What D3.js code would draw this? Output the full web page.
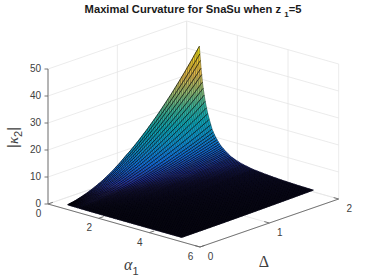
<!DOCTYPE html>
<html>
<head>
<meta charset="utf-8">
<script src="https://cdn.jsdelivr.net/npm/d3@7"></script>
<style>
html, body { margin: 0; padding: 0; background: #fff; }
svg { display: block; }
text { font-family: "Liberation Sans", Arial, sans-serif; fill: #404040; }
</style>
</head>
<body>
<svg id="chart" width="374" height="278"></svg>
<script>
var alphaTicks = [0, 2, 4, 6];
var deltaTicks = [0, 1, 2];
var kappaTicks = [0, 10, 20, 30, 40, 50];

var alphaValues = [
    0.50, 0.52, 0.54, 0.565, 0.59, 0.62, 0.65, 0.69, 0.73, 0.78,
    0.83, 0.89, 0.95,
    1.00, 1.05, 1.10, 1.15, 1.20, 1.25, 1.30, 1.35, 1.40, 1.45,
    1.50, 1.55, 1.60, 1.65, 1.70, 1.75, 1.80, 1.85, 1.90, 1.95,
    2.00, 2.05, 2.10, 2.15, 2.20, 2.25, 2.30, 2.35, 2.40, 2.45,
    2.50, 2.55, 2.60, 2.65, 2.70, 2.75, 2.80, 2.85, 2.90, 2.95,
    3.00, 3.05, 3.10, 3.15, 3.20, 3.25, 3.30, 3.35, 3.40, 3.45,
    3.50, 3.55, 3.60, 3.65, 3.70, 3.75, 3.80, 3.85, 3.90, 3.95,
    4.00, 4.05, 4.10, 4.15, 4.20, 4.25, 4.30, 4.35, 4.40, 4.45,
    4.50, 4.55, 4.60, 4.65, 4.70, 4.75, 4.80, 4.85, 4.90, 4.95,
    5.00
];
// kappa read along the back edge of the surface (delta = 2)
var kappaAtDelta2 = [
    42.0, 39.2, 36.8, 34.0, 31.7, 29.0, 26.8, 24.4, 22.2, 19.9,
    17.9, 15.9, 14.1,
    12.6, 11.6, 10.7, 9.9, 9.2, 8.5, 7.9, 7.4, 6.9, 6.5,
    6.1, 5.7, 5.4, 5.0, 4.7, 4.4, 4.2, 4.0, 3.8, 3.6,
    3.4, 3.25, 3.1, 2.95, 2.8, 2.7, 2.6, 2.5, 2.4, 2.3,
    2.2, 2.1, 2.0, 1.95, 1.9, 1.85, 1.8, 1.75, 1.7, 1.65,
    1.6, 1.55, 1.5, 1.46, 1.42, 1.38, 1.34, 1.3, 1.26, 1.22,
    1.19, 1.16, 1.13, 1.1, 1.07, 1.04, 1.01, 0.98, 0.96, 0.94,
    0.92, 0.9, 0.88, 0.86, 0.84, 0.82, 0.8, 0.78, 0.76, 0.75,
    0.74, 0.73, 0.72, 0.71, 0.7, 0.69, 0.68, 0.67, 0.66, 0.65,
    0.64
];
var deltaValues = [
    0.100, 0.125, 0.150, 0.175, 0.200, 0.225, 0.250, 0.275, 0.300, 0.325,
    0.350, 0.375, 0.400, 0.425, 0.450, 0.475, 0.500, 0.525, 0.550, 0.575,
    0.600, 0.625, 0.650, 0.675, 0.700, 0.725, 0.750, 0.775, 0.800, 0.825,
    0.850, 0.875, 0.900, 0.925, 0.950, 0.975, 1.000, 1.025, 1.050, 1.075,
    1.100, 1.125, 1.150, 1.175, 1.200, 1.225, 1.250, 1.275, 1.300, 1.325,
    1.350, 1.375, 1.400, 1.425, 1.450, 1.475, 1.500, 1.525, 1.550, 1.575,
    1.600, 1.625, 1.650, 1.675, 1.700, 1.725, 1.750, 1.775, 1.800, 1.825,
    1.850, 1.875, 1.900, 1.925, 1.950, 1.975, 2.000
];
// share of the back edge value left at each delta, read along the left edge
var deltaShare = [
    0.005, 0.007, 0.010, 0.012, 0.016, 0.019, 0.024, 0.028, 0.033, 0.038,
    0.043, 0.048, 0.054, 0.060, 0.066, 0.073, 0.080, 0.087, 0.095, 0.102,
    0.110, 0.119, 0.128, 0.137, 0.147, 0.157, 0.167, 0.178, 0.190, 0.201,
    0.213, 0.225, 0.238, 0.251, 0.264, 0.275, 0.287, 0.300, 0.314, 0.327,
    0.341, 0.355, 0.370, 0.384, 0.399, 0.414, 0.429, 0.445, 0.461, 0.477,
    0.493, 0.509, 0.526, 0.543, 0.560, 0.578, 0.596, 0.614, 0.632, 0.650,
    0.669, 0.688, 0.707, 0.727, 0.746, 0.766, 0.786, 0.806, 0.827, 0.848,
    0.869, 0.890, 0.912, 0.934, 0.956, 0.978, 1.000
];
var colorKappa = [0, 1.5, 3, 7, 12, 17, 22, 27, 33, 38, 42];
var colorStops = ["#14123a", "#1c1a5c", "#2433a8", "#0f6fe0", "#0a94cc", "#0aa8b8", "#35b59c", "#8cbd75", "#e0b84c", "#eeca2c", "#e8e015"];

var svg = d3.select("#chart");

// the view is a fixed oblique projection: each data axis moves a point on screen
var xAlpha = d3.scaleLinear().domain([0, 6]).range([48, 200]);
var yAlpha = d3.scaleLinear().domain([0, 6]).range([0, 43]);
var xDelta = d3.scaleLinear().domain([0, 2]).range([0, 138.7]);
var yDelta = d3.scaleLinear().domain([0, 2]).range([0, -48]);
var yKappa = d3.scaleLinear().domain([0, 50]).range([204, 69]);

function project(a, d, k) {
    return [xAlpha(a) + xDelta(d), yKappa(k) + yAlpha(a) + yDelta(d)];
}

var color = d3.scaleLinear()
    .domain(colorKappa)
    .range(colorStops)
    .clamp(true);

var line = d3.line();

// walls and floor grid
var gridLines = [];
kappaTicks.forEach(function(k) {
    gridLines.push([project(0, 0, k), project(0, 2, k), project(6, 2, k)]);
});
deltaTicks.forEach(function(d) {
    gridLines.push([project(6, d, 0), project(0, d, 0), project(0, d, 50)]);
});
alphaTicks.forEach(function(a) {
    gridLines.push([project(a, 0, 0), project(a, 2, 0), project(a, 2, 50)]);
});
svg.append("g").selectAll("path")
    .data(gridLines)
    .enter()
    .append("path")
    .attr("d", line)
    .attr("fill", "none")
    .attr("stroke", "#e6e6e6")
    .attr("stroke-width", 0.8);

// axis lines
var axisLines = [
    [project(0, 0, 0), project(6, 0, 0)],
    [project(6, 0, 0), project(6, 2, 0)],
    [project(0, 0, 0), project(0, 0, 50)]
];
alphaTicks.forEach(function(a) {
    axisLines.push([project(a, 0, 0), project(a, 0.07, 0)]);
});
deltaTicks.forEach(function(d) {
    axisLines.push([project(6, d, 0), project(5.8, d, 0)]);
});
kappaTicks.forEach(function(k) {
    var p = project(0, 0, k);
    axisLines.push([p, [p[0] - 3.5, p[1]]]);
});

// surface cells, far corner first so nearer cells paint over
var cells = [];
alphaValues.slice(0, -1).forEach(function(a, i) {
    for (var j = deltaValues.length - 2; j >= 0; j--) {
        var k00 = kappaAtDelta2[i] * deltaShare[j];
        var k10 = kappaAtDelta2[i + 1] * deltaShare[j];
        var k01 = kappaAtDelta2[i] * deltaShare[j + 1];
        var k11 = kappaAtDelta2[i + 1] * deltaShare[j + 1];
        cells.push({
            k: k00,
            pts: [
                project(alphaValues[i], deltaValues[j], k00),
                project(alphaValues[i + 1], deltaValues[j], k10),
                project(alphaValues[i + 1], deltaValues[j + 1], k11),
                project(alphaValues[i], deltaValues[j + 1], k01)
            ]
        });
    }
});
svg.append("g").selectAll("path")
    .data(cells)
    .enter()
    .append("path")
    .attr("d", function(c) { return line(c.pts) + "Z"; })
    .attr("fill", function(c) { return color(c.k); })
    .attr("stroke", function(c) { return color(c.k); })
    .attr("stroke-width", 0.4);

// mesh, the constant alpha lines read much stronger than the constant delta ones
var alphaMesh = alphaValues.map(function(a, i) {
    return deltaValues.map(function(d, j) { return project(a, d, kappaAtDelta2[i] * deltaShare[j]); });
});
var deltaMesh = deltaValues.map(function(d, j) {
    return alphaValues.map(function(a, i) { return project(a, d, kappaAtDelta2[i] * deltaShare[j]); });
});
svg.append("g").selectAll("path")
    .data(deltaMesh)
    .enter()
    .append("path")
    .attr("d", line)
    .attr("fill", "none")
    .attr("stroke", "#000")
    .attr("stroke-width", 0.35);
svg.append("g").selectAll("path")
    .data(alphaMesh)
    .enter()
    .append("path")
    .attr("d", line)
    .attr("fill", "none")
    .attr("stroke", "#000")
    .attr("stroke-width", 0.7);

svg.append("g").selectAll("path")
    .data(axisLines)
    .enter()
    .append("path")
    .attr("d", line)
    .attr("fill", "none")
    .attr("stroke", "#666")
    .attr("stroke-width", 0.9);

// tick labels
var tickLabels = svg.append("g").attr("font-size", 10);
kappaTicks.forEach(function(k) {
    var p = project(0, 0, k);
    tickLabels.append("text").attr("x", p[0] - 7).attr("y", p[1] + 3.4)
        .attr("text-anchor", "end").text(k);
});
alphaTicks.forEach(function(a) {
    var p = project(a, 0, 0);
    tickLabels.append("text").attr("x", p[0] - 9.5).attr("y", p[1] + 13)
        .attr("text-anchor", "middle").text(a);
});
deltaTicks.forEach(function(d) {
    var p = project(6, d, 0);
    tickLabels.append("text").attr("x", p[0] + 10.5).attr("y", p[1] + 12.5)
        .attr("text-anchor", "middle").text(d);
});

// title
var title = svg.append("text").attr("x", 193).attr("y", 13)
    .attr("text-anchor", "middle").attr("font-size", 11.2)
    .attr("font-weight", "bold").style("fill", "#1a1a1a");
title.append("tspan").text("Maximal Curvature for SnaSu when z ");
title.append("tspan").attr("dy", 4).attr("font-size", 8).text("1");
title.append("tspan").attr("dy", -4).text("=5");

// axis labels
var kappaLabel = svg.append("text")
    .attr("transform", "translate(18,148) rotate(-90)")
    .attr("font-size", 15);
kappaLabel.append("tspan").text("|");
kappaLabel.append("tspan").style("font-family", "Liberation Serif").style("font-style", "italic").text("κ");
kappaLabel.append("tspan").attr("dy", 4).attr("font-size", 11).text("2");
kappaLabel.append("tspan").attr("dy", -4).text("|");

var alphaLabel = svg.append("text").attr("x", 124).attr("y", 270)
    .attr("font-size", 16).style("font-family", "Liberation Serif").style("font-style", "italic");
alphaLabel.append("tspan").text("α");
alphaLabel.append("tspan").attr("dy", 5).attr("font-size", 11).style("font-style", "normal").style("font-family", "Liberation Sans").text("1");

svg.append("text").attr("x", 264).attr("y", 267).attr("text-anchor", "middle")
    .attr("font-size", 16).style("font-family", "Liberation Serif").text("Δ");
</script>
</body>
</html>
